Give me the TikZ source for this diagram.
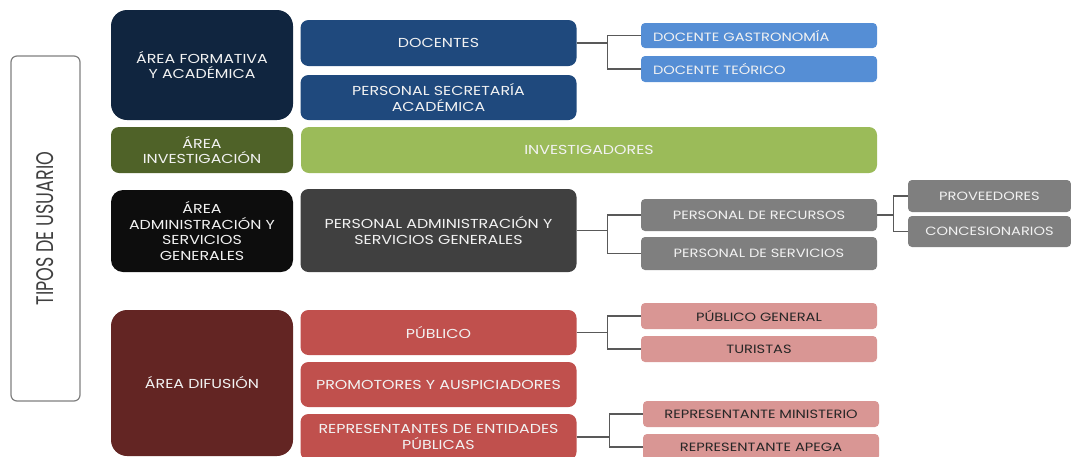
\documentclass[tikz,border=0pt]{standalone}
\usepackage{fontspec}
\setmainfont[FakeStretch=1.22]{Poppins}
\newfontfamily\tiposfont[FakeStretch=0.73]{Poppins}
\usetikzlibrary{positioning}

\definecolor{navy}{HTML}{10253F}
\definecolor{bluedark}{HTML}{1F497D}
\definecolor{bluelight}{HTML}{558ED5}
\definecolor{olivedark}{HTML}{4F6228}
\definecolor{olivelight}{HTML}{9BBB59}
\definecolor{blackish}{HTML}{0D0D0D}
\definecolor{graydark}{HTML}{404040}
\definecolor{graymid}{HTML}{7F7F7F}
\definecolor{maroon}{HTML}{632523}
\definecolor{redmid}{HTML}{C0504D}
\definecolor{pinklight}{HTML}{D99694}
\definecolor{linegray}{HTML}{595959}
\definecolor{txtlight}{HTML}{F2F2F2}
\definecolor{txtdark}{HTML}{262626}

\tikzset{
  area/.style={rectangle, rounded corners=16pt, minimum width=182pt, inner sep=2pt,
    align=center, text=txtlight, font=\fontsize{13}{15.8}\selectfont},
  group/.style={rectangle, rounded corners=8pt, minimum width=276pt, inner sep=2pt,
    align=center, text=txtlight, font=\fontsize{13}{15.8}\selectfont},
  leaf/.style={rectangle, rounded corners=4pt, minimum width=236pt, inner sep=2pt,
    align=center, text=txtlight, font=\fontsize{12}{14}\selectfont},
  leafleft/.style={leaf, align=left, text width=212pt, inner xsep=12pt},
  elbow/.style={to path={-- ++(#1,0) |- (\tikztotarget)}},
  conn/.style={draw=linegray, line width=1.2pt}
}

\begin{document}
\begin{tikzpicture}[x=1pt, y=-1pt]
    \clip (0,0) rectangle (1071,456);

    %title box
    \node[draw=graymid, line width=1.2pt, rounded corners=6pt, rotate=90,
          minimum width=345pt, minimum height=69pt, text=graydark,
          font=\tiposfont\fontsize{24}{26}\selectfont] (tipos) at (45.5,228.5) {TIPOS DE USUARIO};

    %define the areas
    \node[area, fill=navy, minimum height=110pt]      (formativa) at (202,65)  {ÁREA FORMATIVA\\Y ACADÉMICA};
    \node[area, fill=olivedark, minimum height=46pt,
          rounded corners=8pt]                         (investigacion) at (202,150) {ÁREA\\INVESTIGACIÓN};
    \node[area, fill=blackish, minimum height=82pt,
          rounded corners=12pt]                        (administracion) at (202,231) {ÁREA\\ADMINISTRACIÓN Y\\SERVICIOS\\GENERALES};
    \node[area, fill=maroon, minimum height=146pt]     (difusion) at (202,383) {ÁREA DIFUSIÓN};

    %define the user groups
    \node[group, fill=bluedark, minimum height=46pt]   (docentes) at (438.5,43) {DOCENTES};
    \node[group, fill=bluedark, minimum height=45pt]   (secretaria) at (438.5,97.5) {PERSONAL SECRETARÍA\\ACADÉMICA};
    \node[group, fill=olivelight, minimum height=46pt,
          minimum width=576pt]                         (investigadores) at (589,150) {INVESTIGADORES};
    \node[group, fill=graydark, minimum height=83pt]   (personal) at (438.5,230.5) {PERSONAL ADMINISTRACIÓN Y\\SERVICIOS GENERALES};
    \node[group, fill=redmid, minimum height=45pt]     (publico) at (438.5,332.5) {PÚBLICO};
    \node[group, fill=redmid, minimum height=45pt]     (promotores) at (438.5,384.5) {PROMOTORES Y AUSPICIADORES};
    \node[group, fill=redmid, minimum height=46pt]     (representantes) at (438.5,437) {REPRESENTANTES DE ENTIDADES\\PÚBLICAS};

    %define the leaves
    \node[leafleft, fill=bluelight, minimum height=25pt] (gastronomia) at (759,35.5) {DOCENTE GASTRONOMÍA};
    \node[leafleft, fill=bluelight, minimum height=26pt] (teorico) at (759,69) {DOCENTE TEÓRICO};
    \node[leaf, fill=graymid, minimum height=32pt]     (recursos) at (759,215) {PERSONAL DE RECURSOS};
    \node[leaf, fill=graymid, minimum height=33pt]     (servicios) at (759,253.5) {PERSONAL DE SERVICIOS};
    \node[leaf, fill=graymid, minimum height=32pt,
          minimum width=163pt]                         (proveedores) at (989.5,196) {PROVEEDORES};
    \node[leaf, fill=graymid, minimum height=31pt,
          minimum width=163pt]                         (concesionarios) at (989.5,231.5) {CONCESIONARIOS};
    \node[leaf, fill=pinklight, text=txtdark, minimum height=26pt] (general) at (759,316) {PÚBLICO GENERAL};
    \node[leaf, fill=pinklight, text=txtdark, minimum height=26pt] (turistas) at (759,349) {TURISTAS};
    \node[leaf, fill=pinklight, text=txtdark, minimum height=26pt] (ministerio) at (761,414) {REPRESENTANTE MINISTERIO};
    \node[leaf, fill=pinklight, text=txtdark, minimum height=26pt] (apega) at (761,447) {REPRESENTANTE APEGA};

    %define the links
    \path[conn] (docentes.east)       edge[elbow=31pt] (gastronomia.west)
                                      edge[elbow=31pt] (teorico.west)
                (personal.east)       edge[elbow=31pt] (recursos.west)
                                      edge[elbow=31pt] (servicios.west)
                (recursos.east)       edge[elbow=16pt] (proveedores.west)
                                      edge[elbow=16pt] (concesionarios.west)
                (publico.east)        edge[elbow=31pt] (general.west)
                                      edge[elbow=31pt] (turistas.west)
                (representantes.east) edge[elbow=33pt] (ministerio.west)
                                      edge[elbow=33pt] (apega.west);
\end{tikzpicture}
\end{document}
